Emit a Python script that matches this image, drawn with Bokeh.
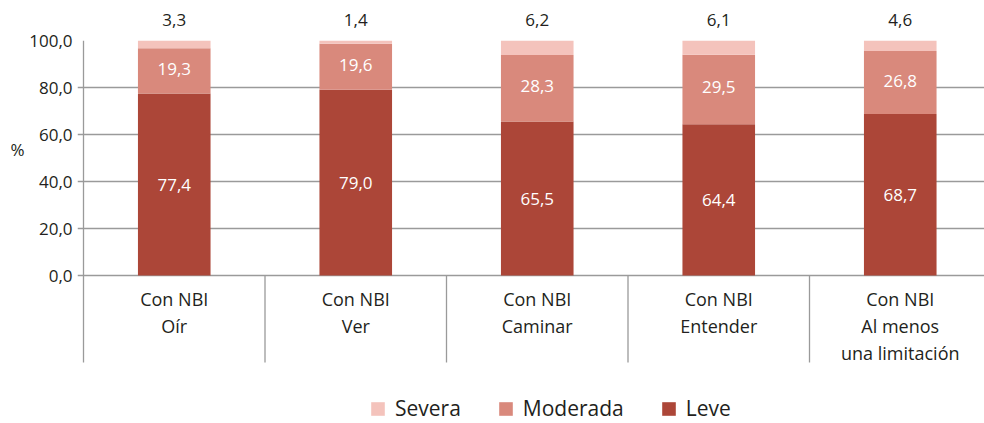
from bokeh.plotting import figure
from bokeh.models import (Range1d, FixedTicker, Legend, LegendItem, ColumnDataSource,
                          LinearAxis)
from bokeh.core.properties import value
from bokeh.embed import file_html
from bokeh.resources import INLINE

groups = ["Oír", "Ver", "Caminar", "Entender", "Al menos\nuna limitación"]
prefix = "Con NBI"
leve = [77.4, 79.0, 65.5, 64.4, 68.7]
moderada = [19.3, 19.6, 28.3, 29.5, 26.8]
severa = [3.3, 1.4, 6.2, 6.1, 4.6]
yticks = [0, 20, 40, 60, 80, 100]
y_title = "%"

C_LEVE = "#ac4638"
C_MOD = "#d9897c"
C_SEV = "#f4c3bc"
TXT = "#231f20"
GRID = "#9a9a9a"
FONT = "Open Sans"

def fmt(v):
    return f"{v:.1f}".replace(".", ",")

n = len(groups)
xs = [i + 0.5 for i in range(n)]
PXY = 2.35          # pixels per % unit
PXX = 181.5         # pixels per category
ybot = -(423 - 275) / PXY
ysep = -(362 - 275) / PXY
x0 = -6 / PXX

src = ColumnDataSource(dict(x=xs, leve=leve, moderada=moderada, severa=severa))

p = figure(width=984, height=423, output_backend="svg", toolbar_location=None,
           x_range=Range1d(x0, x0 + 907 / PXX), y_range=Range1d(ybot, 100),
           x_axis_location=None,
           min_border_left=77, min_border_right=0, min_border_top=40, min_border_bottom=0)
p.outline_line_color = None
p.background_fill_color = "white"
p.border_fill_color = "white"

for g in p.grid:
    if g.dimension == 0:
        g.visible = False
    else:
        g.ticker = FixedTicker(ticks=yticks)
        g.grid_line_color = GRID
        g.grid_line_width = 1.3

ax = p.yaxis[0]
ax.ticker = FixedTicker(ticks=yticks)
ax.major_label_overrides = {t: fmt(t) for t in yticks}
ax.major_label_text_font = FONT
ax.major_label_text_font_size = "17px"
ax.major_label_text_color = TXT
ax.axis_line_color = None
ax.major_tick_line_color = None
ax.major_tick_in = 0
ax.major_tick_out = 0
ax.minor_tick_line_color = None
ax.major_label_standoff = 5

# "%" title as a second left axis with one labelled tick
pct = LinearAxis(ticker=FixedTicker(ticks=[53.5]), major_label_overrides={53.5: y_title},
                 axis_line_color=None, major_tick_line_color=None, minor_tick_line_color=None,
                 major_tick_in=0, major_tick_out=0, major_label_standoff=2,
                 major_label_text_font=FONT, major_label_text_font_size="17px",
                 major_label_text_color=TXT)
p.add_layout(pct, "left")

# severa values above each bar, as an axis above
top = LinearAxis(ticker=FixedTicker(ticks=xs),
                 major_label_overrides={x: fmt(v) for x, v in zip(xs, severa)},
                 axis_line_color=None, major_tick_line_color=None, minor_tick_line_color=None,
                 major_tick_in=0, major_tick_out=0, major_label_standoff=15,
                 major_label_text_font=FONT, major_label_text_font_size="17px",
                 major_label_text_color=TXT)
p.add_layout(top, "above")

rs = p.vbar_stack(["leve", "moderada", "severa"], x="x", width=0.40, source=src,
                  color=[C_LEVE, C_MOD, C_SEV], line_color=None)

# value axis line + group separators
sep_x = list(range(0, n))
p.segment(x0=[0], y0=[ysep], x1=[0], y1=[100], line_color=GRID, line_width=1.3)
p.segment(x0=sep_x[1:], y0=[0] * (n - 1), x1=sep_x[1:], y1=[ysep] * (n - 1),
          line_color=GRID, line_width=1.3)

# inside labels
p.text(x=xs, y=[l / 2 for l in leve], text=[fmt(v) for v in leve],
       text_color="white", text_font=value(FONT), text_font_size="17px",
       text_align="center", text_baseline="middle")
p.text(x=xs, y=[l + m / 2 for l, m in zip(leve, moderada)], text=[fmt(v) for v in moderada],
       text_color="white", text_font=value(FONT), text_font_size="17px",
       text_align="center", text_baseline="middle", y_offset=-2)

# category labels
line_y = [-9.8, -21.7, -32.8]
cx, cy, ct = [], [], []
for x, g in zip(xs, groups):
    lines = [prefix] + g.split("\n")
    for k, t in enumerate(lines):
        cx.append(x); cy.append(line_y[k]); ct.append(t)
p.text(x=cx, y=cy, text=ct, text_color=TXT, text_font=value(FONT), text_font_size="18px",
       text_align="center", text_baseline="middle")

legend = Legend(items=[LegendItem(label="Severa", renderers=[rs[2]]),
                       LegendItem(label="Moderada", renderers=[rs[1]]),
                       LegendItem(label="Leve", renderers=[rs[0]])],
                orientation="horizontal", location=(292, 1),
                label_text_font=FONT, label_text_font_size="21px", label_text_color=TXT,
                glyph_width=17, glyph_height=17, label_standoff=9, spacing=36,
                padding=0, margin=0, border_line_color=None, background_fill_alpha=0)
p.add_layout(legend, "center")

open("out.html", "w").write(file_html(p, INLINE))
